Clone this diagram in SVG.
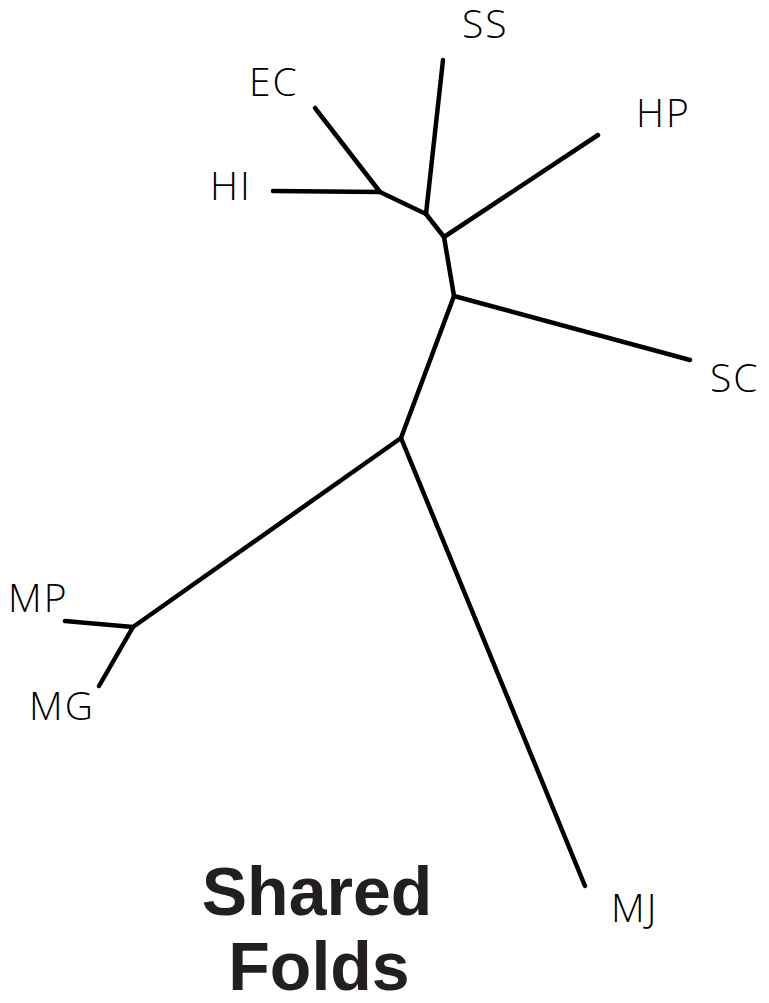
<svg xmlns="http://www.w3.org/2000/svg" width="769" height="1003" viewBox="0 0 769 1003">
<style>
.e{stroke:#000;stroke-width:4.5;stroke-linecap:round;stroke-linejoin:round;fill:none}
.l{font-family:"Open Sans",Lato,"Liberation Sans",sans-serif;font-weight:300;font-size:39px;letter-spacing:2px;fill:#000}
.t{font-family:"Liberation Sans",Arial,sans-serif;font-weight:bold;font-size:68px;fill:#231f20;text-anchor:middle}
</style>
<rect width="769" height="1003" fill="#fff"/>
<g id="connectors">
<path class="e" d="M273,191 L380,192 L315,108"/>
<path class="e" d="M380,192 L426,214 L443,60"/>
<path class="e" d="M426,214 L444,237 L598,135"/>
<path class="e" d="M444,237 L454,296 L690,360"/>
<path class="e" d="M454,296 L401,438 L585,886"/>
<path class="e" d="M401,438 L133,627 L65,621"/>
<path class="e" d="M133,627 L99,686"/>
</g>
<g id="SS"><text class="l" x="462" y="38">SS</text></g>
<g id="EC"><text class="l" x="249" y="96">EC</text></g>
<g id="HP"><text class="l" x="636" y="127">HP</text></g>
<g id="HI"><text class="l" x="210" y="200">HI</text></g>
<g id="SC"><text class="l" x="710" y="392">SC</text></g>
<g id="MP"><text class="l" x="8" y="612">MP</text></g>
<g id="MG"><text class="l" x="29" y="720">MG</text></g>
<g id="MJ"><text class="l" x="611" y="922">MJ</text></g>
<g id="title"><text class="t" x="317" y="915">Shared</text><text class="t" x="319" y="990">Folds</text></g>
</svg>
